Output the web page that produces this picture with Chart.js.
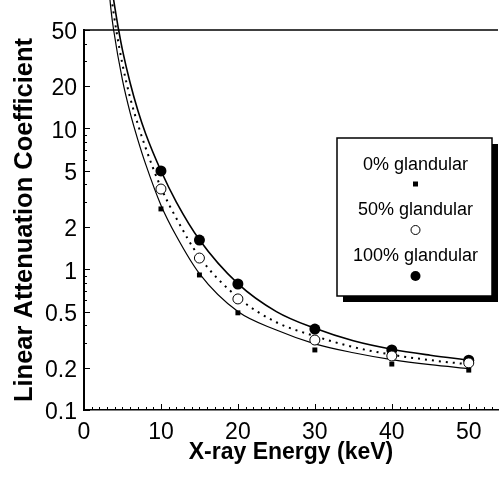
<!DOCTYPE html>
<html>
<head>
<meta charset="utf-8">
<script src="https://cdn.jsdelivr.net/npm/chart.js@4.4.1/dist/chart.umd.min.js"></script>
<style>
  html, body { margin: 0; padding: 0; background: #fff; }
  #wrap { width: 504px; height: 477px; }
</style>
</head>
<body>
<div id="wrap"><canvas id="chartCanvas" width="504" height="477"></canvas></div>
<script>
// measured points
const energies = [10, 15, 20, 30, 40, 50];
const glandular0 = [2.68, 0.91, 0.49, 0.267, 0.212, 0.192];
const glandular50 = [3.71, 1.20, 0.615, 0.314, 0.242, 0.216];
const glandular100 = [4.99, 1.61, 0.785, 0.376, 0.267, 0.226];

// fitted curves
const fitEnergies0 = [3.35, 3.5, 3.85, 5, 6, 7, 8, 10, 12, 15, 20, 25, 30, 35, 40, 45, 50];
const fit0 = [85, 70, 50, 22, 12.9, 8.3, 5.6, 2.85, 1.72, 0.93, 0.5, 0.37, 0.295, 0.255, 0.228, 0.21, 0.197];
const fitEnergies50 = [3.55, 4.19, 5, 6, 7, 8, 10, 12, 15, 20, 25, 30, 35, 40, 45, 50];
const fit50 = [85, 50, 28.5, 16.5, 10.7, 7.3, 3.8, 2.3, 1.22, 0.63, 0.42, 0.335, 0.28, 0.247, 0.226, 0.211];
const fitEnergies100 = [3.8, 4.5, 5, 6, 7, 8, 10, 12, 15, 20, 25, 30, 35, 40, 45, 50];
const fit100 = [85, 50, 36, 21, 13.4, 9.2, 5.0, 3.0, 1.62, 0.79, 0.5, 0.38, 0.31, 0.27, 0.245, 0.226];

const seriesLabels = ['0% glandular', '50% glandular', '100% glandular'];
const xTickLabels = [0, 10, 20, 30, 40, 50];
const yTickLabels = [0.1, 0.2, 0.5, 1, 2, 5, 10, 20, 50];

const FONT = 'Liberation Sans, Arial, Helvetica, sans-serif';
const pts = (xs, ys) => xs.map((x, i) => ({ x: x, y: ys[i] }));

const markerStyles = [
  { pointStyle: 'rect', pointRadius: 3.5, backgroundColor: '#000', borderColor: '#000', pointBorderWidth: 0 },
  { pointStyle: 'circle', pointRadius: 5, backgroundColor: '#fff', borderColor: '#000', pointBorderWidth: 1 },
  { pointStyle: 'circle', pointRadius: 5.5, backgroundColor: '#000', borderColor: '#000', pointBorderWidth: 0 },
];

const curve = (xs, ys, width, dash) => ({
  type: 'line',
  data: pts(xs, ys),
  borderColor: '#000',
  borderWidth: width,
  borderDash: dash,
  pointRadius: 0,
  cubicInterpolationMode: 'monotone',
  clip: false,
  fill: false,
});

// frame, inward ticks and the boxed legend
const framePlugin = {
  id: 'framePlugin',
  afterDraw(chart) {
    const ctx = chart.ctx;
    const { left, right, top, bottom } = chart.chartArea;
    const xs = chart.scales.x, ys = chart.scales.y;
    ctx.save();
    ctx.strokeStyle = '#000';

    // top line
    ctx.lineWidth = 1.5;
    ctx.beginPath(); ctx.moveTo(left, top); ctx.lineTo(right, top); ctx.stroke();

    // y ticks (major + minor), pointing in
    ctx.lineWidth = 1;
    for (let d = -1; d <= 1; d++) {
      for (let m = 1; m <= 9; m++) {
        const v = m * Math.pow(10, d);
        if (v < 0.1 || v > 50) continue;
        const py = Math.round(ys.getPixelForValue(v)) + 0.5;
        const len = yTickLabels.includes(v) ? 6 : 3;
        ctx.beginPath(); ctx.moveTo(left, py); ctx.lineTo(left + len, py); ctx.stroke();
      }
    }
    // x ticks every 1 keV
    for (let e = 1; e <= 53; e++) {
      const px = Math.round(xs.getPixelForValue(e)) + 0.5;
      const len = e % 10 === 0 ? 6 : 3;
      ctx.beginPath(); ctx.moveTo(px, bottom); ctx.lineTo(px, bottom - len); ctx.stroke();
    }

    // legend box with drop shadow
    const bx = 337, by = 138, bw = 155, bh = 158;
    ctx.fillStyle = '#000';
    ctx.fillRect(bx + 6, by + 6, bw, bh);
    ctx.fillStyle = '#fff';
    ctx.fillRect(bx, by, bw, bh);
    ctx.lineWidth = 1.5;
    ctx.strokeRect(bx, by, bw, bh);

    const cx = bx + bw / 2 + 1;
    ctx.font = '18px ' + FONT;
    ctx.textAlign = 'center';
    ctx.textBaseline = 'alphabetic';
    const rowY = [170, 215, 261];
    const markY = [184, 230, 276];
    const legendRadius = [2.5, 4.5, 5];
    seriesLabels.forEach((lab, i) => {
      ctx.fillStyle = '#000';
      ctx.fillText(lab, cx, rowY[i]);
      const st = markerStyles[i];
      ctx.fillStyle = st.backgroundColor;
      ctx.strokeStyle = st.borderColor;
      ctx.lineWidth = st.pointBorderWidth || 1;
      ctx.beginPath();
      if (st.pointStyle === 'rect') {
        const s = legendRadius[i];
        ctx.rect(cx - s, markY[i] - s, 2 * s, 2 * s);
        ctx.fill();
      } else {
        ctx.arc(cx, markY[i], legendRadius[i], 0, Math.PI * 2);
        ctx.fill();
        if (st.pointBorderWidth) ctx.stroke();
      }
    });
    ctx.restore();
  }
};

new Chart(document.getElementById('chartCanvas'), {
  type: 'scatter',
  data: {
    datasets: [
      Object.assign({ label: seriesLabels[0], data: pts(energies, glandular0), showLine: false }, markerStyles[0]),
      Object.assign({ label: seriesLabels[1], data: pts(energies, glandular50), showLine: false }, markerStyles[1]),
      Object.assign({ label: seriesLabels[2], data: pts(energies, glandular100), showLine: false }, markerStyles[2]),
      curve(fitEnergies0, fit0, 1.2, []),
      curve(fitEnergies50, fit50, 2, [2, 5]),
      curve(fitEnergies100, fit100, 1.6, []),
    ]
  },
  options: {
    responsive: false,
    animation: false,
    devicePixelRatio: 1,
    layout: { padding: { top: 30, right: 0, left: 0, bottom: 0 } },
    plugins: { legend: { display: false }, tooltip: { enabled: false } },
    scales: {
      x: {
        type: 'linear', min: 0, max: 53.8,
        afterBuildTicks: s => { s.ticks = xTickLabels.map(v => ({ value: v })); },
        afterFit: s => { s.height = 67; },
        grid: { display: false, drawTicks: false },
        border: { display: true, color: '#000', width: 1.5 },
        ticks: { color: '#000', font: { family: FONT, size: 23 }, padding: 9, autoSkip: false, maxRotation: 0 },
        title: { display: true, text: 'X-ray Energy (keV)', color: '#000',
                 font: { family: FONT, size: 23, weight: 'bold' }, padding: { top: 0, bottom: 11 } }
      },
      y: {
        type: 'logarithmic', min: 0.1, max: 50,
        afterBuildTicks: s => { s.ticks = yTickLabels.map(v => ({ value: v })); },
        afterFit: s => { s.width = 84; },
        grid: { display: false, drawTicks: false },
        border: { display: true, color: '#000', width: 2 },
        ticks: { color: '#000', font: { family: FONT, size: 23 }, padding: 7, autoSkip: false, labelOffset: 3,
                 callback: v => String(v) },
        title: { display: true, text: 'Linear Attenuation Coefficient', color: '#000',
                 font: { family: FONT, size: 25.5, weight: 'bold' }, padding: { top: 10, bottom: 0 } }
      }
    }
  },
  plugins: [framePlugin]
});
</script>
</body>
</html>
